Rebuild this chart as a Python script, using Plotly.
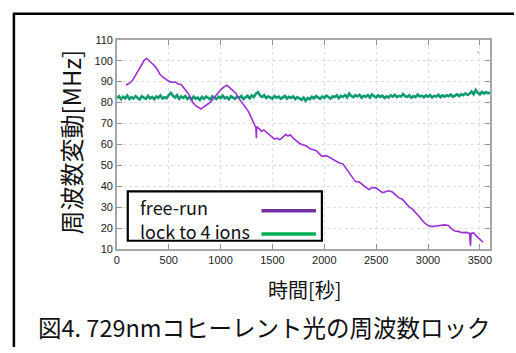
import plotly.graph_objects as go

# ---- data ----
free_t = [86, 120, 150, 180, 210, 240, 265, 286, 310, 335, 365, 390, 415, 446, 470, 490, 509, 540, 565, 590,
          620, 645, 665, 684, 710, 732, 760, 790, 811, 840, 870, 907, 930, 955, 980, 1002, 1030, 1060, 1100, 1145,
          1175, 1209, 1240, 1272, 1300, 1326, 1340, 1345, 1348, 1370, 1395, 1416, 1440, 1470, 1500, 1520, 1543, 1570, 1600, 1630,
          1650, 1670, 1700, 1730, 1760, 1790, 1829, 1860, 1890, 1926, 1950, 1980, 2021, 2060, 2100, 2140, 2179, 2210, 2240, 2270,
          2300, 2338, 2370, 2400, 2433, 2460, 2497, 2530, 2561, 2590, 2620, 2657, 2690, 2720, 2752, 2790, 2820, 2850, 2880, 2910,
          2940, 2970, 3000, 3038, 3080, 3120, 3160, 3197, 3230, 3260, 3292, 3330, 3370, 3400, 3410, 3415, 3440, 3460, 3490, 3510, 3531]
free_v = [88.4, 89.2, 90.5, 93.0, 95.5, 98.0, 100.3, 101.2, 100.0, 99.2, 97.5, 95.8, 93.5, 92.0, 91.0, 90.6, 90.0, 89.6, 89.8, 88.9,
          88.6, 87.2, 85.8, 84.6, 82.5, 80.0, 78.5, 77.4, 76.9, 78.0, 79.2, 80.3, 82.0, 83.5, 85.2, 86.1, 87.4, 88.3, 86.5, 84.6,
          82.0, 80.0, 77.8, 75.4, 72.5, 70.0, 68.0, 63.0, 68.5, 67.5, 66.2, 66.9, 65.8, 64.5, 63.2, 62.5, 63.0, 62.2, 63.5, 64.8,
          64.0, 64.6, 63.0, 61.5, 60.5, 59.8, 59.2, 58.0, 57.5, 56.9, 55.6, 54.3, 54.6, 53.5, 52.0, 51.2, 50.7, 48.5, 46.0, 44.0,
          42.2, 42.0, 40.5, 39.5, 38.4, 39.4, 39.2, 37.8, 36.9, 37.4, 37.8, 37.2, 35.5, 34.4, 33.8, 31.5, 30.0, 29.0, 27.6, 25.8,
          24.0, 22.3, 21.2, 20.7, 21.0, 21.3, 21.5, 21.2, 19.5, 18.6, 18.4, 17.8, 17.9, 17.5, 11.5, 17.4, 17.7, 16.5, 15.0, 13.8, 13.2]

lock_t = list(range(0, 3601, 20))
lock_v = [82.1, 83.0, 81.6, 82.8, 82.0, 83.3, 81.7, 82.6, 81.9, 83.1,
          82.2, 81.5, 83.0, 82.4, 81.8, 83.2, 82.0, 82.7, 81.6, 82.9,
          82.3, 83.4, 81.9, 82.5, 82.1, 83.6, 84.6, 83.2, 82.4, 83.5,
          81.8, 82.9, 82.2, 83.1, 81.7, 82.6, 81.4, 82.8, 81.9, 82.4,
          81.3, 82.7, 81.8, 82.9, 82.0, 81.5, 83.0, 82.3, 81.7, 82.8,
          82.1, 83.3, 82.0, 82.6, 81.6, 83.0, 82.4, 81.8, 82.9, 82.2,
          83.1, 81.7, 82.5, 83.2, 82.0, 83.4, 82.6, 84.2, 85.0, 83.4,
          82.6, 83.5, 82.1, 83.0, 82.4, 81.9, 83.1, 82.3, 82.8, 81.8,
          82.5, 83.2, 81.9, 82.7, 82.2, 83.0, 81.7, 82.6, 82.0, 81.3,
          82.4, 80.9, 82.2, 81.6, 82.8, 82.0, 83.1, 82.3, 81.8, 82.9,
          82.2, 83.3, 82.5, 81.9, 83.0, 82.6, 83.4, 82.1, 83.2, 82.7,
          83.6, 82.4, 84.3, 83.1, 82.6, 83.5, 82.9, 83.7, 82.3, 83.2,
          82.8, 83.6, 82.4, 83.9, 83.0, 82.5, 83.4, 82.7, 83.3, 82.2,
          83.0, 82.4, 83.5, 82.8, 83.7, 82.6, 83.2, 82.9, 84.1, 83.0,
          82.7, 83.5, 82.3, 83.1, 82.6, 83.8, 82.9, 83.3, 82.5, 83.4,
          82.8, 83.6, 82.4, 83.2, 82.9, 83.7, 82.6, 83.4, 82.8, 83.5,
          83.0, 83.8, 82.7, 83.3, 83.9, 83.1, 84.0, 83.5, 84.4, 83.6,
          84.2, 85.3, 84.0, 86.0, 84.6, 83.9, 85.1, 84.3, 85.0, 84.4,
          84.8]

stray_t = [3483]
stray_v = [104]

x_ticks = [0, 500, 1000, 1500, 2000, 2500, 3000, 3500]
y_ticks = [10, 20, 30, 40, 50, 60, 70, 80, 90, 100, 110]

legend_names = ["free-run", "lock to 4 ions"]
legend_colors = ["#7030A0", "#00B050"]

W, H = 516, 353
def px(x):
    return x / W
def py(y):
    return 1 - y / H

fig = go.Figure()
fig.add_trace(go.Scatter(x=lock_t, y=lock_v, mode="lines",
                         line=dict(color="#109a70", width=2.6), showlegend=False))
fig.add_trace(go.Scatter(x=free_t, y=free_v, mode="lines",
                         line=dict(color="#9a2fd2", width=1.6), showlegend=False))
fig.add_trace(go.Scatter(x=stray_t, y=stray_v, mode="markers",
                         marker=dict(color="#c9a0e8", size=2), showlegend=False))

axis_common = dict(showline=True, linecolor="#a6a6a6", linewidth=1.5, mirror="ticks",
                   ticks="inside", ticklen=5, tickcolor="#909090", tickwidth=1,
                   showgrid=True, gridcolor="#dedede", griddash="dot", gridwidth=1,
                   zeroline=False,
                   tickfont=dict(family="Liberation Sans", size=11, color="#222"))

fig.update_layout(
    width=W, height=H,
    margin=dict(l=0, r=0, t=0, b=0),
    paper_bgcolor="white", plot_bgcolor="white",
    xaxis=dict(range=[0, 3600], tickvals=x_ticks, domain=[px(115), px(492)], **axis_common),
    yaxis=dict(range=[10, 110], tickvals=y_ticks, domain=[py(251.5), py(35)], **axis_common),
)

ann = []
ann.append(dict(text="時間[秒]", x=px(305), y=py(293), xref="paper", yref="paper",
                xanchor="center", yanchor="middle",
                showarrow=False, font=dict(family="Noto Sans CJK JP", size=20, color="#111")))
ann.append(dict(text="周波数変動[MHz]", x=px(68), y=py(141), xref="paper", yref="paper",
                xanchor="center", yanchor="middle",
                showarrow=False, textangle=-90,
                font=dict(family="Noto Sans CJK JP", size=24, color="#111")))
ann.append(dict(text="図4. 729nmコヒーレント光の周波数ロック", x=px(264), y=py(332), xref="paper", yref="paper",
                xanchor="center", yanchor="middle",
                showarrow=False, font=dict(family="Noto Sans CJK JP", size=23.5, color="#111")))
for i, name in enumerate(legend_names):
    ann.append(dict(text=name, x=px(136), y=py(208 + 25 * i), xref="paper", yref="paper",
                    xanchor="left", yanchor="middle", showarrow=False,
                    font=dict(family="Noto Sans CJK JP", size=18, color="#111")))

shapes = []
# outer frame
shapes.append(dict(type="line", xref="paper", yref="paper", x0=px(11), x1=px(11), y0=py(8), y1=py(353),
                   line=dict(color="black", width=2.5)))
shapes.append(dict(type="line", xref="paper", yref="paper", x0=px(10), x1=px(516), y0=py(8), y1=py(8),
                   line=dict(color="black", width=2.5)))
# legend box
shapes.append(dict(type="rect", xref="paper", yref="paper", x0=px(126), x1=px(322), y0=py(243), y1=py(192),
                   fillcolor="white", line=dict(color="black", width=2.2)))
for i, c in enumerate(legend_colors):
    shapes.append(dict(type="line", xref="paper", yref="paper", x0=px(261), x1=px(316),
                       y0=py(212 + 24 * i), y1=py(212 + 24 * i), line=dict(color=c, width=3.5)))

fig.update_layout(annotations=ann, shapes=shapes)
fig.write_html("out.html", config={"displayModeBar": False},
               post_script="document.body.style.margin='0';document.body.style.padding='0';")
